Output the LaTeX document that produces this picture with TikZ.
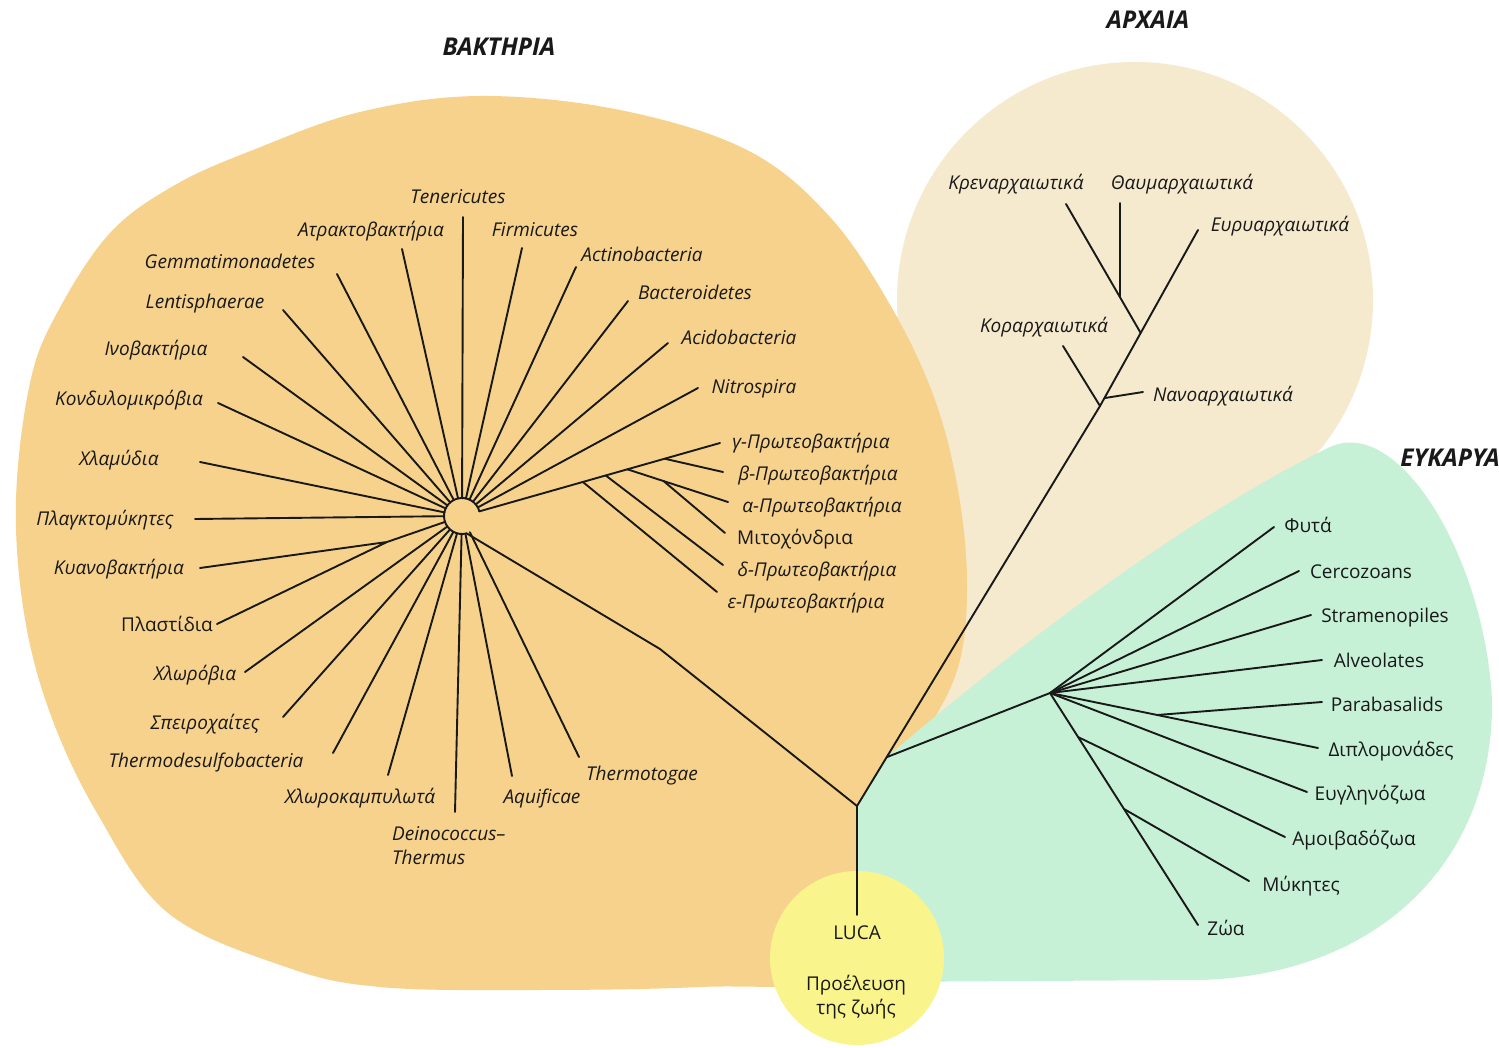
\documentclass[tikz,border=0pt]{standalone}
\usepackage{fontspec}
\setmainfont{Open Sans}
\setsansfont{Open Sans}
\usetikzlibrary{calc}
\definecolor{bactfill}{RGB}{246,210,140}
\definecolor{archfill}{RGB}{245,233,206}
\definecolor{eukfill}{RGB}{199,241,215}
\definecolor{lucafill}{RGB}{249,245,140}
\definecolor{ink}{RGB}{25,25,25}

\begin{document}
\begin{tikzpicture}[x=1pt,y=-1pt,
  br/.style={draw=ink,line width=1.9pt,line cap=round,line join=round},
  it/.style={font=\fontsize{19}{24}\selectfont\itshape,text=ink,inner sep=0pt,anchor=base},
  up/.style={font=\fontsize{19}{24}\selectfont,text=ink,inner sep=0pt,anchor=base},
  ttl/.style={font=\fontsize{24.5}{28}\selectfont\bfseries\itshape,text=ink,inner sep=0pt}]

\fill[white] (0,0) rectangle (1499,1048);
\useasboundingbox (0,0) rectangle (1499,1048);

% ---------- domain backgrounds ----------
% Archaea: round head with a tail down to the root
\fill[archfill] (1135,300) circle[radius=238];
\fill[archfill] (870,310) -- (1300,420) -- (1290,490) -- (857,812) -- cycle;
% Bacteria
\fill[bactfill] plot[smooth cycle,tension=0.6] coordinates {
  (480,96) (620,110) (747,150) (830,217) (893,310) (935,400) (958,490)
  (967,580) (960,660) (932,722) (885,785) (870,880) (850,975) (700,987)
  (530,990) (380,987) (286,967) (168,913) (97,813) (50,713) (24,613)
  (16,500) (30,383) (57,313) (110,233) (175,185) (253,150) (360,112)};
% Eukarya
\fill[eukfill] (857,806) -- (887,757)
  .. controls (1000,660) and (1180,520) .. (1330,447)
  .. controls (1400,415) and (1485,560) .. (1492,700)
  .. controls (1494,860) and (1380,975) .. (1200,980)
  -- (860,982) -- cycle;
% LUCA disc
\fill[lucafill] (857,958) circle[radius=87];

% ---------- titles ----------
\node[ttl] (tB) at (499,47) {ΒΑΚΤΗΡΙΑ};
\node[ttl] (tA) at (1148,20) {ΑΡΧΑΙΑ};
\node[ttl,anchor=east] (tE) at (1500,458) {ΕΥΚΑΡΥΑ};

% ---------- main trunk ----------
\coordinate (R) at (857,806);
\coordinate (L) at (857,915);
\coordinate (N1) at (1100,406);
\coordinate (euryE) at (1198,230);
\coordinate (E0) at ($(R)!0.122!(N1)$);
\coordinate (H) at (462,516);
\coordinate (Hg) at ($(H)+(-15:18)$);
\coordinate (Hr) at ($(H)+(-285:18)$);
\coordinate (Bend) at (660,649);

\draw[br] (R) -- (L);
\draw[br] (Hr) -- (Bend) -- (R);

% ---------- bacteria ----------
\draw[br] (Hg) arc[start angle=-15,end angle=-285,radius=18];

\coordinate (bTen) at (463,217);
\coordinate (bAtr) at (402,249);
\coordinate (bFir) at (522,248);
\coordinate (bGem) at (337,274);
\coordinate (bAct) at (576,267);
\coordinate (bLen) at (283,310);
\coordinate (bBac) at (628,301);
\coordinate (bIno) at (243,357);
\coordinate (bAci) at (668,343);
\coordinate (bKon) at (218,403);
\coordinate (bNit) at (698,388);
\coordinate (bChl) at (200,462);
\coordinate (bPla) at (195,519);
\coordinate (bKya) at (200,568);
\coordinate (bPls) at (217,624);
\coordinate (bChb) at (245,672);
\coordinate (bSpi) at (283,717);
\coordinate (bTds) at (333,753);
\coordinate (bChk) at (388,775);
\coordinate (bDei) at (455,812);
\coordinate (bAqu) at (512,776);
\coordinate (bTmt) at (579,757);
\coordinate (J) at (387,542);

\foreach \leaf in {bTen,bAtr,bFir,bGem,bAct,bLen,bBac,bIno,bAci,bKon,bNit,
                   bChl,bPla,bChb,bSpi,bTds,bChk,bDei,bAqu,bTmt,J}
  \draw[br] (\leaf) -- ($(H)!18pt!(\leaf)$);
\draw[br] (bKya) -- (J) -- (bPls);

% proteobacteria
\coordinate (gE) at (720,443);
\coordinate (bE) at (723,472);
\coordinate (aE) at (728,502);
\coordinate (mE) at (725,533);
\coordinate (dE) at (723,565);
\coordinate (eE) at (717,592);
\coordinate (Peps) at ($(Hg)!0.43!(gE)$);
\coordinate (Pdel) at ($(Hg)!0.525!(gE)$);
\coordinate (Palp) at ($(Hg)!0.615!(gE)$);
\coordinate (Pbet) at ($(Hg)!0.77!(gE)$);
\coordinate (Pmit) at ($(Palp)!0.36!(aE)$);
\draw[br] (Hg) -- (gE);
\draw[br] (Pbet) -- (bE);
\draw[br] (Palp) -- (aE);
\draw[br] (Pmit) -- (mE);
\draw[br] (Pdel) -- (dE);
\draw[br] (Peps) -- (eE);

\node[it] (lTen) at (458,204) {Tenericutes};
\node[it] (lAtr) at (371,237) {Ατρακτοβακτήρια};
\node[it] (lFir) at (535,237) {Firmicutes};
\node[it] (lGem) at (230,269) {Gemmatimonadetes};
\node[it] (lAct) at (642,262) {Actinobacteria};
\node[it] (lLen) at (205,309) {Lentisphaerae};
\node[it] (lBac) at (695,300) {Bacteroidetes};
\node[it] (lIno) at (156,356) {Ινοβακτήρια};
\node[it] (lAci) at (739,345) {Acidobacteria};
\node[it] (lKon) at (129,405) {Κονδυλομικρόβια};
\node[it] (lNit) at (754,394) {Nitrospira};
\node[it] (lChl) at (119,465) {Χλαμύδια};
\node[it] (lPla) at (105,525) {Πλαγκτομύκητες};
\node[it] (lKya) at (119,574) {Κυανοβακτήρια};
\node[up] (lPls) at (167,631) {Πλαστίδια};
\node[it] (lChb) at (195,680) {Χλωρόβια};
\node[it] (lSpi) at (205,729) {Σπειροχαίτες};
\node[it] (lTds) at (206,767) {Thermodesulfobacteria};
\node[it] (lChk) at (360,803) {Χλωροκαμπυλωτά};
\node[it,align=left,anchor=north west] (lDei) at (392,826) {Deinococcus–\\Thermus};
\node[it] (lAqu) at (542,803) {Aquificae};
\node[it] (lTmt) at (642,780) {Thermotogae};
\node[it] (lg) at (811,448) {γ-Πρωτεοβακτήρια};
\node[it] (lb) at (818,480) {β-Πρωτεοβακτήρια};
\node[it] (la) at (822,512) {α-Πρωτεοβακτήρια};
\node[up] (lm) at (795,544) {Μιτοχόνδρια};
\node[it] (ld) at (817,576) {δ-Πρωτεοβακτήρια};
\node[it] (le) at (806,608) {ε-Πρωτεοβακτήρια};

% ---------- archaea ----------
\coordinate (N2) at ($(N1)!0.415!(euryE)$);
\coordinate (crE) at (1066,204);
\coordinate (T) at ($(N2)!0.28!(crE)$);
\coordinate (thTop) at (0,203);
\coordinate (thE) at (T |- thTop);
\coordinate (koE) at (1063,346);
\coordinate (Na0) at ($(N1)!0.045!(euryE)$);
\coordinate (naE) at (1143,392);
\draw[br] (R) -- (N1) -- (euryE);
\draw[br] (N2) -- (crE);
\draw[br] (T) -- (thE);
\draw[br] (koE) -- (N1);
\draw[br] (Na0) -- (naE);

\node[it] (lCr) at (1016,190) {Κρεναρχαιωτικά};
\node[it] (lTh) at (1182,190) {Θαυμαρχαιωτικά};
\node[it] (lEu) at (1280,232) {Ευρυαρχαιωτικά};
\node[it] (lKo) at (1044,333) {Κοραρχαιωτικά};
\node[it] (lNa) at (1223,402) {Νανοαρχαιωτικά};

% ---------- eukarya ----------
\coordinate (E1) at (1050,693);
\coordinate (fyE) at (1274,527);
\coordinate (ceE) at (1299,571);
\coordinate (stE) at (1311,615);
\coordinate (alE) at (1322,660);
\coordinate (paE) at (1322,702);
\coordinate (diE) at (1318,748);
\coordinate (eugE) at (1307,792);
\coordinate (amE) at (1285,837);
\coordinate (myE) at (1249,881);
\coordinate (zoE) at (1198,925);
\coordinate (PB) at ($(E1)!0.4!(diE)$);
\coordinate (AB) at ($(E1)!0.19!(zoE)$);
\coordinate (MB) at ($(E1)!0.5!(zoE)$);
\draw[br] (E0) -- (E1);
\foreach \leaf in {fyE,ceE,stE,alE,diE,eugE,zoE}
  \draw[br] (E1) -- (\leaf);
\draw[br] (PB) -- (paE);
\draw[br] (AB) -- (amE);
\draw[br] (MB) -- (myE);

\node[up] (lFy) at (1308,532) {Φυτά};
\node[up] (lCe) at (1361,578) {Cercozoans};
\node[up] (lSt) at (1385,622) {Stramenopiles};
\node[up] (lAl) at (1379,667) {Alveolates};
\node[up] (lPa) at (1387,711) {Parabasalids};
\node[up] (lDi) at (1391,756) {Διπλομονάδες};
\node[up] (lEg) at (1370,800) {Ευγληνόζωα};
\node[up] (lAm) at (1354,845) {Αμοιβαδόζωα};
\node[up] (lMy) at (1301,891) {Μύκητες};
\node[up] (lZo) at (1226,935) {Ζώα};

% ---------- LUCA ----------
\node[up] (lLuca) at (857,939) {LUCA};
\node[up,align=center,anchor=north] (lOrig) at (856,975) {Προέλευση\\της ζωής};

\end{tikzpicture}
\end{document}
